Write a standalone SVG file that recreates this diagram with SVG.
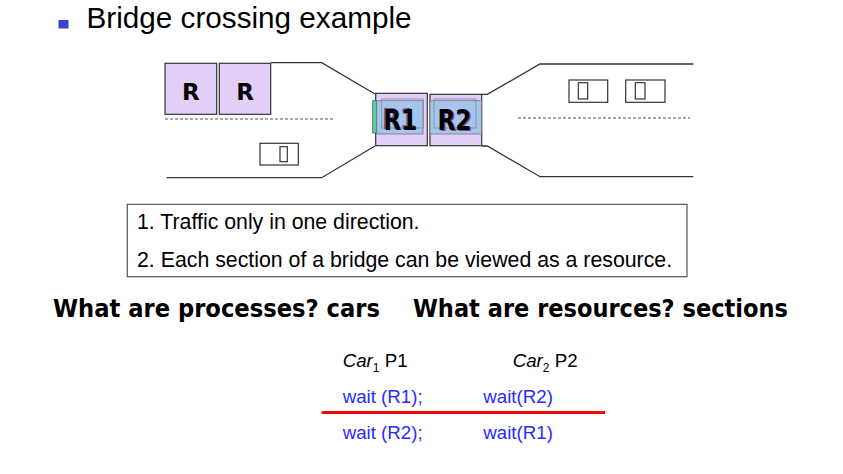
<svg xmlns="http://www.w3.org/2000/svg" width="843" height="474" viewBox="0 0 843 474">
<style>
.road{fill:none;stroke:#333;stroke-width:1.3}
.dash{fill:none;stroke:#555;stroke-width:1.2;stroke-dasharray:3 2}
.car{fill:#fff;stroke:#333;stroke-width:1.2}
.pink{fill:#e3cffa;stroke:#333;stroke-width:1.2}
.blue{fill:#9fc3ea;fill-opacity:0.9;stroke:#777;stroke-width:0.8}
.sans{font-family:"Liberation Sans",Arial,sans-serif}
.bold{font-family:"DejaVu Sans",Verdana,sans-serif;font-weight:bold}
.code{font-family:"Liberation Sans",Arial,sans-serif;font-size:18.7px;fill:#2a2aff}
</style>
<rect width="843" height="474" fill="#fff"/>
<g id="title">
<rect x="58.5" y="20" width="10" height="8.5" fill="#4040d0"/>
<text x="86.5" y="28" class="sans" font-size="29.7" fill="#000">Bridge crossing example</text>
</g>
<g id="roads">
<polyline class="road" points="271,62.7 321.7,62.7 375,94"/>
<polyline class="road" points="166.7,177.7 321.7,177.7 375,146"/>
<polyline class="road" points="482,94.3 487.3,94.3 540,64 693.3,64"/>
<polyline class="road" points="482,146 487.3,146 540,176.7 693.3,176.7"/>
<line class="dash" x1="165" y1="119" x2="335" y2="119"/>
<line class="dash" x1="518" y1="118" x2="690" y2="118"/>
</g>
<g id="waiting-cars">
<rect class="pink" x="165" y="63.3" width="51.7" height="51"/>
<text x="190.8" y="100" class="bold" font-size="23" text-anchor="middle" fill="#000">R</text>
<rect class="pink" x="219.3" y="63.3" width="51.4" height="51"/>
<text x="245" y="100" class="bold" font-size="23" text-anchor="middle" fill="#000">R</text>
</g>
<g id="small-cars">
<rect class="car" x="260" y="143.3" width="38.3" height="21.7"/>
<rect class="car" x="280" y="146.7" width="7.3" height="15"/>
<rect class="car" x="569" y="80" width="38.7" height="22.3"/>
<rect class="car" x="578.3" y="82.7" width="9.4" height="16.3"/>
<rect class="car" x="625.7" y="80" width="39.3" height="22.3"/>
<rect class="car" x="635.3" y="82.7" width="9.7" height="16.3"/>
</g>
<g id="section-R1">
<rect class="pink" x="375.7" y="93.3" width="51.6" height="52.4"/>
<rect x="372.7" y="100.7" width="4" height="32.3" fill="#5ccaa5" stroke="#2a7a5a" stroke-width="0.8"/>
<rect class="blue" x="376.7" y="100.7" width="46.3" height="33.3"/>
<rect x="381.7" y="99" width="41.6" height="29" fill="none" stroke="#7a8aa0" stroke-width="0.8"/>
<text x="382" y="129" class="bold" font-size="29" fill="#7a4f8a" textLength="34" lengthAdjust="spacingAndGlyphs">R1</text>
<text x="383.5" y="130" class="bold" font-size="29" fill="#000" textLength="34" lengthAdjust="spacingAndGlyphs">R1</text>
</g>
<g id="section-R2">
<rect class="pink" x="430" y="94.3" width="51.7" height="51.4"/>
<rect class="blue" x="430" y="100.7" width="51.7" height="33.3"/>
<rect x="434" y="99" width="42" height="29" fill="none" stroke="#7a8aa0" stroke-width="0.8"/>
<text x="439" y="131" class="bold" font-size="29" fill="#7a4f8a" textLength="34" lengthAdjust="spacingAndGlyphs">R2</text>
<text x="437.5" y="130" class="bold" font-size="29" fill="#000" textLength="34" lengthAdjust="spacingAndGlyphs">R2</text>
</g>
<g id="notes">
<rect x="127.3" y="204.3" width="559.7" height="72.4" fill="#fff" stroke="#555" stroke-width="1.2"/>
<text x="137" y="229" class="sans" font-size="21.3" fill="#000">1. Traffic only in one direction.</text>
<text x="137" y="266.5" class="sans" font-size="21.3" fill="#000">2. Each section of a bridge can be viewed as a resource.</text>
</g>
<g id="questions">
<text x="53" y="316.5" class="bold" font-size="24" fill="#000" textLength="327" lengthAdjust="spacingAndGlyphs">What are processes? cars</text>
<text x="413" y="316.5" class="bold" font-size="24" fill="#000" textLength="375" lengthAdjust="spacingAndGlyphs">What are resources? sections</text>
</g>
<g id="code">
<text x="342.7" y="367" class="sans" font-size="18.7" fill="#000"><tspan font-style="italic">Car</tspan><tspan dy="5" font-size="12">1</tspan><tspan dy="-5"> P1</tspan></text>
<text x="512.7" y="367" class="sans" font-size="18.7" fill="#000"><tspan font-style="italic">Car</tspan><tspan dy="5" font-size="12">2</tspan><tspan dy="-5"> P2</tspan></text>
<text x="342.7" y="403" class="code">wait (R1);</text>
<text x="483.3" y="403" class="code">wait(R2)</text>
<line x1="321.7" y1="412.5" x2="605" y2="412.5" stroke="#ff0000" stroke-width="3"/>
<text x="342.7" y="439" class="code">wait (R2);</text>
<text x="483.3" y="439" class="code">wait(R1)</text>
</g>
</svg>
